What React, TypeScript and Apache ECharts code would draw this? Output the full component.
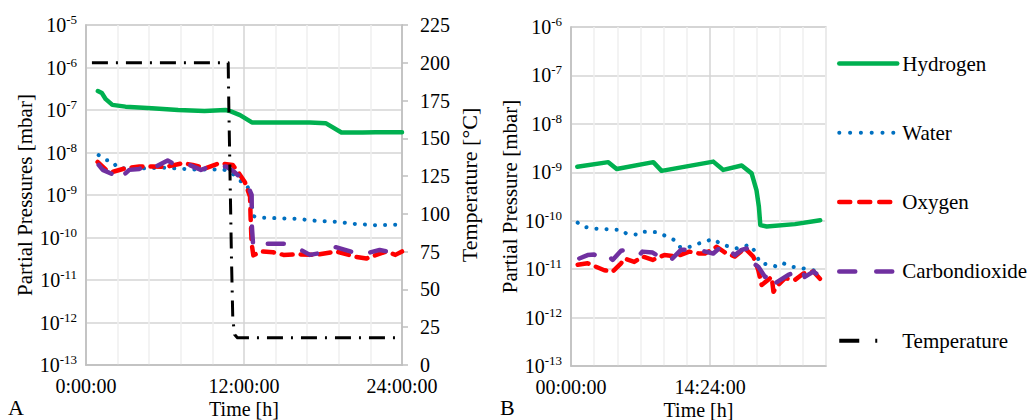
import { useEffect, useRef } from "react";
import * as echarts from "echarts";

const FONT = "Liberation Serif";

// ---- Panel A (hours, mbar) ----
const hydrogenA: [number, number][] = [
  [0.9, 2.8e-7], [1.2, 2.5e-7], [1.5, 1.8e-7], [2.0, 1.32e-7], [3.0, 1.2e-7], [5.0, 1.1e-7],
  [7.0, 1.0e-7], [9.0, 9.5e-8], [10.6, 1.0e-7], [11.0, 9.3e-8], [11.7, 7.6e-8], [12.6, 5.1e-8],
  [15.0, 5.1e-8], [17.0, 5.1e-8], [18.2, 4.9e-8], [19.4, 2.95e-8], [21.0, 2.95e-8], [22.0, 3.0e-8],
  [24.0, 3.0e-8],
];
const waterA: [number, number][] = [
  [0.96, 8.7e-9], [1.5, 6.6e-9], [2.0, 6.3e-9], [2.4, 4.3e-9], [4.0, 4.2e-9], [6.0, 4.4e-9],
  [8.0, 4.0e-9], [10.4, 4.0e-9], [11.0, 3.5e-9], [11.65, 2.2e-9], [12.2, 1.8e-9], [12.5, 1.0e-9],
  [12.7, 3.2e-10], [13.1, 2.95e-10], [16.0, 2.75e-10], [17.3, 2.5e-10], [19.0, 2.35e-10],
  [20.3, 2.1e-10], [22.0, 1.95e-10], [24.0, 2.0e-10],
];
const oxygenA: [number, number][] = [
  [0.88, 6.0e-9], [1.52, 3.9e-9], [2.03, 3.5e-9], [3.04, 4.3e-9], [4.05, 4.7e-9], [5.06, 4.7e-9],
  [6.08, 4.6e-9], [7.34, 5.6e-9], [8.1, 5.1e-9], [9.11, 4.3e-9], [10.13, 5.6e-9], [11.14, 5.1e-9],
  [11.57, 3.4e-9], [12.07, 2.0e-9], [12.46, 9.1e-10], [12.5, 3.1e-10], [12.58, 7.2e-11],
  [12.71, 3.8e-11], [13.3, 4.7e-11], [14.2, 4.5e-11], [15.0, 3.9e-11], [16.0, 4.0e-11],
  [17.5, 3.9e-11], [19.0, 4.7e-11], [20.5, 3.5e-11], [21.3, 3.2e-11], [22.8, 4.7e-11],
  [23.5, 3.9e-11], [24.0, 4.7e-11],
];
const co2A: [number, number][] = [
  [0.96, 5.1e-9], [1.27, 3.9e-9], [2.15, 2.95e-9], [2.4, 2.2e-9], [3.29, 3.9e-9], [4.05, 4.1e-9],
  [4.68, 5.6e-9], [5.32, 4.7e-9], [6.2, 6.5e-9], [6.96, 4.7e-9], [7.85, 5.1e-9], [8.73, 3.9e-9],
  [9.49, 4.7e-9], [10.63, 4.7e-9], [11.26, 3.5e-9], [12.2, 1.9e-9], [12.58, 1.0e-9],
  [12.6, 1.8e-10], [12.7, 6.0e-11], [13.3, 6.0e-11], [13.7, 7.1e-11], [15.3, 7.1e-11],
  [15.8, 6.3e-11], [17.0, 3.9e-11], [17.6, 4.2e-11], [18.9, 6.0e-11], [20.5, 4.3e-11],
  [20.9, 3.9e-11], [22.3, 5.1e-11], [22.9, 4.7e-11],
];
const temperatureA: [number, number][] = [
  [0.45, 200], [10.8, 200], [10.85, 170], [10.95, 120], [11.05, 70], [11.15, 30], [11.3, 20],
  [11.5, 18], [23.7, 18],
];

// ---- Panel B ----
const hydrogenB: [number, number][] = [
  [0.65, 1.3e-9], [3.86, 1.62e-9], [4.73, 1.17e-9], [8.52, 1.62e-9], [9.38, 1.07e-9],
  [14.73, 1.66e-9], [15.77, 1.12e-9], [17.67, 1.38e-9], [18.7, 9.5e-10], [19.2, 4.3e-10],
  [19.45, 1.95e-10], [19.6, 8.1e-11], [20.26, 7.6e-11], [23.19, 8.5e-11], [25.8, 1.02e-10],
];
const waterB: [number, number][] = [
  [0.69, 9.1e-11], [1.21, 7.6e-11], [2.35, 6.9e-11], [3.1, 6.8e-11], [4.48, 6.5e-11],
  [5.2, 6.5e-11], [5.69, 5.5e-11], [7.07, 5.1e-11], [7.59, 5.9e-11], [8.97, 5.8e-11],
  [9.83, 4.8e-11], [10.69, 4.0e-11], [11.2, 2.9e-11], [11.9, 2.7e-11], [12.84, 3.2e-11],
  [13.87, 3.7e-11], [14.73, 4.2e-11], [15.6, 3.2e-11], [17.15, 2.7e-11], [18.53, 3.2e-11],
  [19.05, 2.3e-11], [19.57, 1.32e-11], [20.78, 1.23e-11], [21.3, 1.12e-11], [21.98, 1.32e-11],
  [22.85, 1.12e-11], [23.89, 1.05e-11], [25.09, 9.5e-12], [25.78, 7.6e-12],
];
const oxygenB: [number, number][] = [
  [0.69, 1.23e-11], [1.72, 1.32e-11], [2.58, 1.12e-11], [3.45, 9.5e-12], [4.31, 8.9e-12],
  [5.18, 1.32e-11], [5.52, 1.66e-11], [6.55, 1.41e-11], [7.42, 1.82e-11], [8.46, 1.55e-11],
  [9.66, 1.95e-11], [10.87, 1.82e-11], [12.25, 2.3e-11], [13.28, 2.1e-11], [13.87, 2.1e-11],
  [15.08, 2.9e-11], [16.11, 2.1e-11], [16.97, 1.82e-11], [18.01, 2.7e-11], [18.87, 1.82e-11],
  [19.39, 9.5e-12], [19.74, 4.7e-12], [20.78, 6.9e-12], [20.96, 3.4e-12], [21.3, 4.4e-12],
  [22.16, 6.5e-12], [23.19, 6.0e-12], [24.06, 8.1e-12], [25.09, 8.9e-12], [25.88, 6.0e-12],
];
const co2B: [number, number][] = [
  [0.86, 1.66e-11], [1.72, 1.95e-11], [2.41, 2.0e-11], [2.93, 1.66e-11], [3.79, 1.95e-11],
  [4.31, 1.55e-11], [5.18, 2.4e-11], [5.7, 2.5e-11], [7.07, 1.95e-11], [7.4, 2.3e-11],
  [8.46, 2.2e-11], [10.0, 1.41e-11], [10.35, 1.55e-11], [11.38, 2.5e-11], [12.0, 2.5e-11],
  [13.17, 2.5e-11], [14.73, 2.1e-11], [15.77, 3.2e-11], [16.1, 2.7e-11], [16.97, 1.95e-11],
  [17.67, 2.5e-11], [18.3, 2.7e-11], [18.87, 1.32e-11], [19.39, 1.12e-11], [20.09, 6.9e-12],
  [20.95, 8.1e-12], [21.12, 5.1e-12], [22.5, 7.6e-12], [22.85, 8.1e-12], [23.89, 1.05e-11],
  [24.2, 6.9e-12], [25.09, 8.9e-12], [25.6, 7.6e-12],
];

const labelledHoursA = [0, 12, 24];
const labelledHoursB = [0, 14.4];

const GREEN = "#00B050";
const BLUE = "#0070C0";
const RED = "#FF0000";
const PURPLE = "#7030A0";
const BLACK = "#000000";

const AXIS_GRAY = "#bfbfbf";
const GRID_GRAY = "#d4d4d4";
const MINOR_GRAY = "#efefef";

function fmtTime(h: number, pad: boolean) {
  const totalMin = Math.round(h * 60);
  const hh = Math.floor(totalMin / 60);
  const mm = totalMin % 60;
  const hs = pad ? String(hh).padStart(2, "0") : String(hh);
  return `${hs}:${String(mm).padStart(2, "0")}:00`;
}

const powRich = {
  b: { fontSize: 20, fontFamily: FONT, color: BLACK, lineHeight: 24 },
  s: { fontSize: 13, fontFamily: FONT, color: BLACK, lineHeight: 14, verticalAlign: "top" },
};

function powFormatter(v: number) {
  const e = Math.round(Math.log10(v));
  return `{b|10}{s|${e}}`;
}

function logAxis(gridIndex: number, min: number, max: number, split: number) {
  return {
    type: "log",
    logBase: 10,
    gridIndex,
    min,
    max,
    splitNumber: split,
    position: "left",
    name: gridIndex === 0 ? "Partial Pressures [mbar]" : "Partial Pressure [mbar]",
    nameLocation: "middle",
    nameGap: 51,
    nameTextStyle: { fontFamily: FONT, fontSize: 21, color: BLACK },
    axisLine: { show: true, lineStyle: { color: AXIS_GRAY, width: 1.5 } },
    axisTick: { show: false },
    minorTick: { show: false },
    axisLabel: { margin: 9, formatter: powFormatter, rich: powRich },
    splitLine: { show: true, lineStyle: { color: GRID_GRAY, width: 1.5 } },
  };
}

function timeAxis(gridIndex: number, max: number, labelled: number[], pad: boolean, colors: string[]) {
  return {
    type: "value",
    gridIndex,
    min: 0,
    max,
    interval: 2.4,
    name: "Time [h]",
    nameLocation: "middle",
    nameGap: 34,
    nameMoveOverlap: false,
    nameTextStyle: { fontFamily: FONT, fontSize: 20, color: BLACK, lineHeight: 20 },
    axisLine: { show: true, onZero: false, lineStyle: { color: AXIS_GRAY, width: 1.5 } },
    axisTick: { show: false },
    axisLabel: {
      margin: 12,
      fontFamily: FONT,
      fontSize: 20,
      lineHeight: 18,
      color: BLACK,
      showMinLabel: true,
      showMaxLabel: true,
      formatter: (v: number) =>
        labelled.some((t) => Math.abs(t - v) < 1e-6) ? fmtTime(v, pad) : "",
    },
    splitLine: { show: true, lineStyle: { color: colors, width: 1.5 } },
  };
}

function gas(name: string, data: [number, number][], idx: number, style: any) {
  return {
    name,
    type: "line",
    xAxisIndex: idx,
    yAxisIndex: idx === 0 ? 0 : 2,
    data,
    symbol: "none",
    lineStyle: style,
    itemStyle: { color: style.color },
    emphasis: { disabled: true },
  };
}

const hydrogenStyle = { color: GREEN, width: 4.5, cap: "round", join: "round" };
const waterStyle = { color: BLUE, width: 4, type: [0.1, 10], cap: "round", join: "round" };
const oxygenStyle = { color: RED, width: 4.5, type: [11, 8], cap: "round", join: "round" };
const co2Style = { color: PURPLE, width: 4.5, type: [16, 20], cap: "round", join: "round" };
const tempStyle = { color: BLACK, width: 3, type: [16, 8, 2, 8], cap: "butt", join: "round" };

const hiddenSymbol = { opacity: 0, color: "rgba(0,0,0,0)", borderWidth: 0 };

export default function App() {
  const ref = useRef<HTMLDivElement>(null);
  useEffect(() => {
    if (!ref.current) return;
    const chart = echarts.init(ref.current, undefined, { renderer: "svg" });
    chart.setOption({
      animation: false,
      backgroundColor: "#ffffff",
      textStyle: { fontFamily: FONT },
      grid: [
        { left: 86, top: 25, width: 316, height: 340, show: true, borderColor: AXIS_GRAY, borderWidth: 1.5, outerBoundsMode: "none" },
        { left: 571, top: 27, width: 255, height: 339, show: true, borderColor: GRID_GRAY, borderWidth: 1.5, outerBoundsMode: "none" },
      ],
      xAxis: [
        timeAxis(0, 24, labelledHoursA, false, [GRID_GRAY, MINOR_GRAY, MINOR_GRAY, MINOR_GRAY, MINOR_GRAY]),
        timeAxis(1, 26.4, labelledHoursB, true, [GRID_GRAY, MINOR_GRAY, MINOR_GRAY, MINOR_GRAY, MINOR_GRAY, MINOR_GRAY]),
      ],
      yAxis: [
        logAxis(0, 1e-13, 1e-5, 8),
        {
          type: "value",
          gridIndex: 0,
          position: "right",
          min: 0,
          max: 225,
          interval: 25,
          name: "Temperature [°C]",
          nameLocation: "middle",
          nameGap: 56,
          nameTextStyle: { fontFamily: FONT, fontSize: 22, color: BLACK, padding: [0, 0, 0, 20] },
          axisLine: { show: true, lineStyle: { color: AXIS_GRAY, width: 1.5 } },
          axisTick: { show: true, length: 6, lineStyle: { color: AXIS_GRAY, width: 1.5 } },
          axisLabel: { margin: 18, fontFamily: FONT, fontSize: 20, lineHeight: 18, color: BLACK },
          splitLine: { show: false },
        },
        logAxis(1, 1e-13, 1e-6, 7),
      ],
      legend: {
        orient: "vertical",
        left: 837,
        top: 53,
        padding: 0,
        itemWidth: 58,
        itemHeight: 14,
        itemGap: 48.3,
        selectedMode: false,
        textStyle: { fontFamily: FONT, fontSize: 21, color: BLACK },
        data: [
          { name: "Hydrogen", itemStyle: hiddenSymbol, lineStyle: { width: 4.5 } },
          { name: "Water", itemStyle: hiddenSymbol, lineStyle: { width: 4, type: [0.1, 10.7], cap: "round" } },
          { name: "Oxygen", itemStyle: hiddenSymbol, lineStyle: { width: 4.5, type: [11, 9], cap: "round" } },
          { name: "Carbondioxide", itemStyle: hiddenSymbol, lineStyle: { width: 4.5, type: [16, 21], cap: "round" } },
          { name: "Temperature", itemStyle: hiddenSymbol, lineStyle: { width: 4, type: [20, 16, 2, 30] } },
        ],
      },
      graphic: [
        { type: "text", left: 8, top: 396, style: { text: "A", fontFamily: FONT, fontSize: 22, fill: BLACK } },
        { type: "text", left: 500, top: 396, style: { text: "B", fontFamily: FONT, fontSize: 22, fill: BLACK } },
      ],
      series: [
        gas("Hydrogen", hydrogenA, 0, hydrogenStyle),
        gas("Water", waterA, 0, waterStyle),
        gas("Oxygen", oxygenA, 0, oxygenStyle),
        gas("Carbondioxide", co2A, 0, co2Style),
        {
          name: "Temperature",
          type: "line",
          xAxisIndex: 0,
          yAxisIndex: 1,
          data: temperatureA,
          symbol: "none",
          lineStyle: tempStyle,
          itemStyle: { color: BLACK },
          emphasis: { disabled: true },
        },
        gas("Hydrogen", hydrogenB, 1, hydrogenStyle),
        gas("Water", waterB, 1, waterStyle),
        gas("Oxygen", oxygenB, 1, oxygenStyle),
        gas("Carbondioxide", co2B, 1, co2Style),
      ],
    });
    return () => chart.dispose();
  }, []);
  return (
    <div
      ref={ref}
      style={{ position: "absolute", left: 0, top: 0, width: 1029, height: 420 }}
    />
  );
}
